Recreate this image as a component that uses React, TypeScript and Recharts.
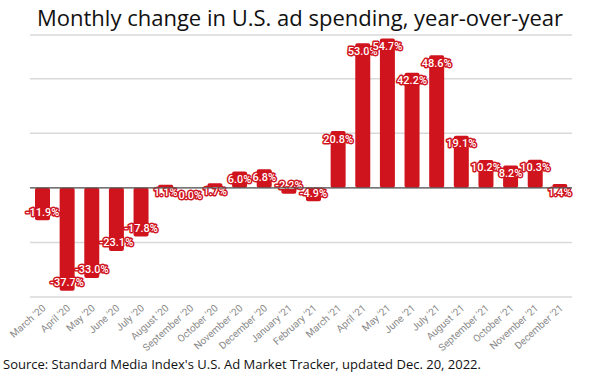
import { BarChart, Bar, XAxis, YAxis, CartesianGrid, ReferenceLine, Rectangle } from "recharts";

const months = [
  "March '20", "April '20", "May '20", "June '20", "July '20", "August '20",
  "September '20", "October '20", "November '20", "December '20", "January '21",
  "February '21", "March '21", "April '21", "May '21", "June '21", "July '21",
  "August '21", "September '21", "October '21", "November '21", "December '21",
];

const changes = [
  -11.9, -37.7, -33.0, -23.1, -17.8, 1.1, 0.0, 1.7, 6.0, 6.8, -2.2, -4.9,
  20.8, 53.0, 54.7, 42.2, 48.6, 19.1, 10.2, 8.2, 10.3, 1.4,
];

const yTicks = [-40, -20, 0, 20, 40];

const data = months.map((m, i) => ({ month: m, change: changes[i] }));

const RED = "#d0141e";

// bar + its value label drawn together so zero-height bars still get a label
const BarWithLabel = (props: any) => {
  const { x, y, width, height, payload } = props;
  const v = Number(payload.change);
  const h = Number(height) || 0;
  const top = Math.min(y, y + h);
  const bottom = Math.max(y, y + h);
  const cy = v >= 0 ? top + 8 : bottom - 8;
  return (
    <g>
      {Math.abs(h) > 0 && (
        <Rectangle x={x} y={top} width={width} height={bottom - top} radius={2} fill={RED} />
      )}
      <text
        x={x + width / 2}
        y={cy}
        textAnchor="middle"
        dominantBaseline="central"
        fontFamily="Roboto, sans-serif"
        fontSize={11}
        fontWeight={500}
        fill="#fff"
        stroke={RED}
        strokeWidth={3}
        strokeLinejoin="round"
        paintOrder="stroke"
      >
        {v.toFixed(1)}%
      </text>
    </g>
  );
};

const MonthTick = (props: any) => {
  const { x, y, payload } = props;
  return (
    <g transform={`translate(${x + 4},${y + 4})`}>
      <text
        textAnchor="end"
        transform="rotate(-42)"
        fontFamily="Roboto, sans-serif"
        fontSize={10}
        fill="#8a8a8a"
      >
        {payload.value}
      </text>
    </g>
  );
};

export default function App() {
  return (
    <div style={{ position: "absolute", left: 0, top: 0, width: 600, height: 375, background: "#fff" }}>
      <div
        style={{
          position: "absolute",
          top: 2,
          left: 0,
          width: 600,
          textAlign: "center",
          fontFamily: "'Open Sans', sans-serif",
          fontSize: 22,
          color: "#111",
        }}
      >
        Monthly change in U.S. ad spending, year-over-year
      </div>
      <BarChart
        width={600}
        height={375}
        data={data}
        margin={{ top: 35, right: 28, bottom: 0, left: 30 }}
        style={{ position: "absolute", left: 0, top: 0 }}
      >
        <CartesianGrid vertical={false} stroke="#d9d9d9" strokeWidth={1.5} />
        <XAxis
          dataKey="month"
          interval={0}
          tick={<MonthTick />}
          tickLine={false}
          axisLine={false}
          height={78}
        />
        <YAxis hide domain={[-40, 56]} ticks={yTicks} allowDataOverflow />
        <ReferenceLine y={0} stroke="#555" strokeWidth={1.2} />
        <Bar
          dataKey="change"
          fill={RED}
          barSize={15}
          isAnimationActive={false}
          shape={<BarWithLabel />}
        />
      </BarChart>
      <div
        style={{
          position: "absolute",
          left: 3,
          top: 355,
          fontFamily: "'Open Sans', sans-serif",
          fontSize: 13,
          color: "#111",
          whiteSpace: "nowrap",
        }}
      >
        Source: Standard Media Index's U.S. Ad Market Tracker, updated Dec. 20, 2022.
      </div>
    </div>
  );
}
